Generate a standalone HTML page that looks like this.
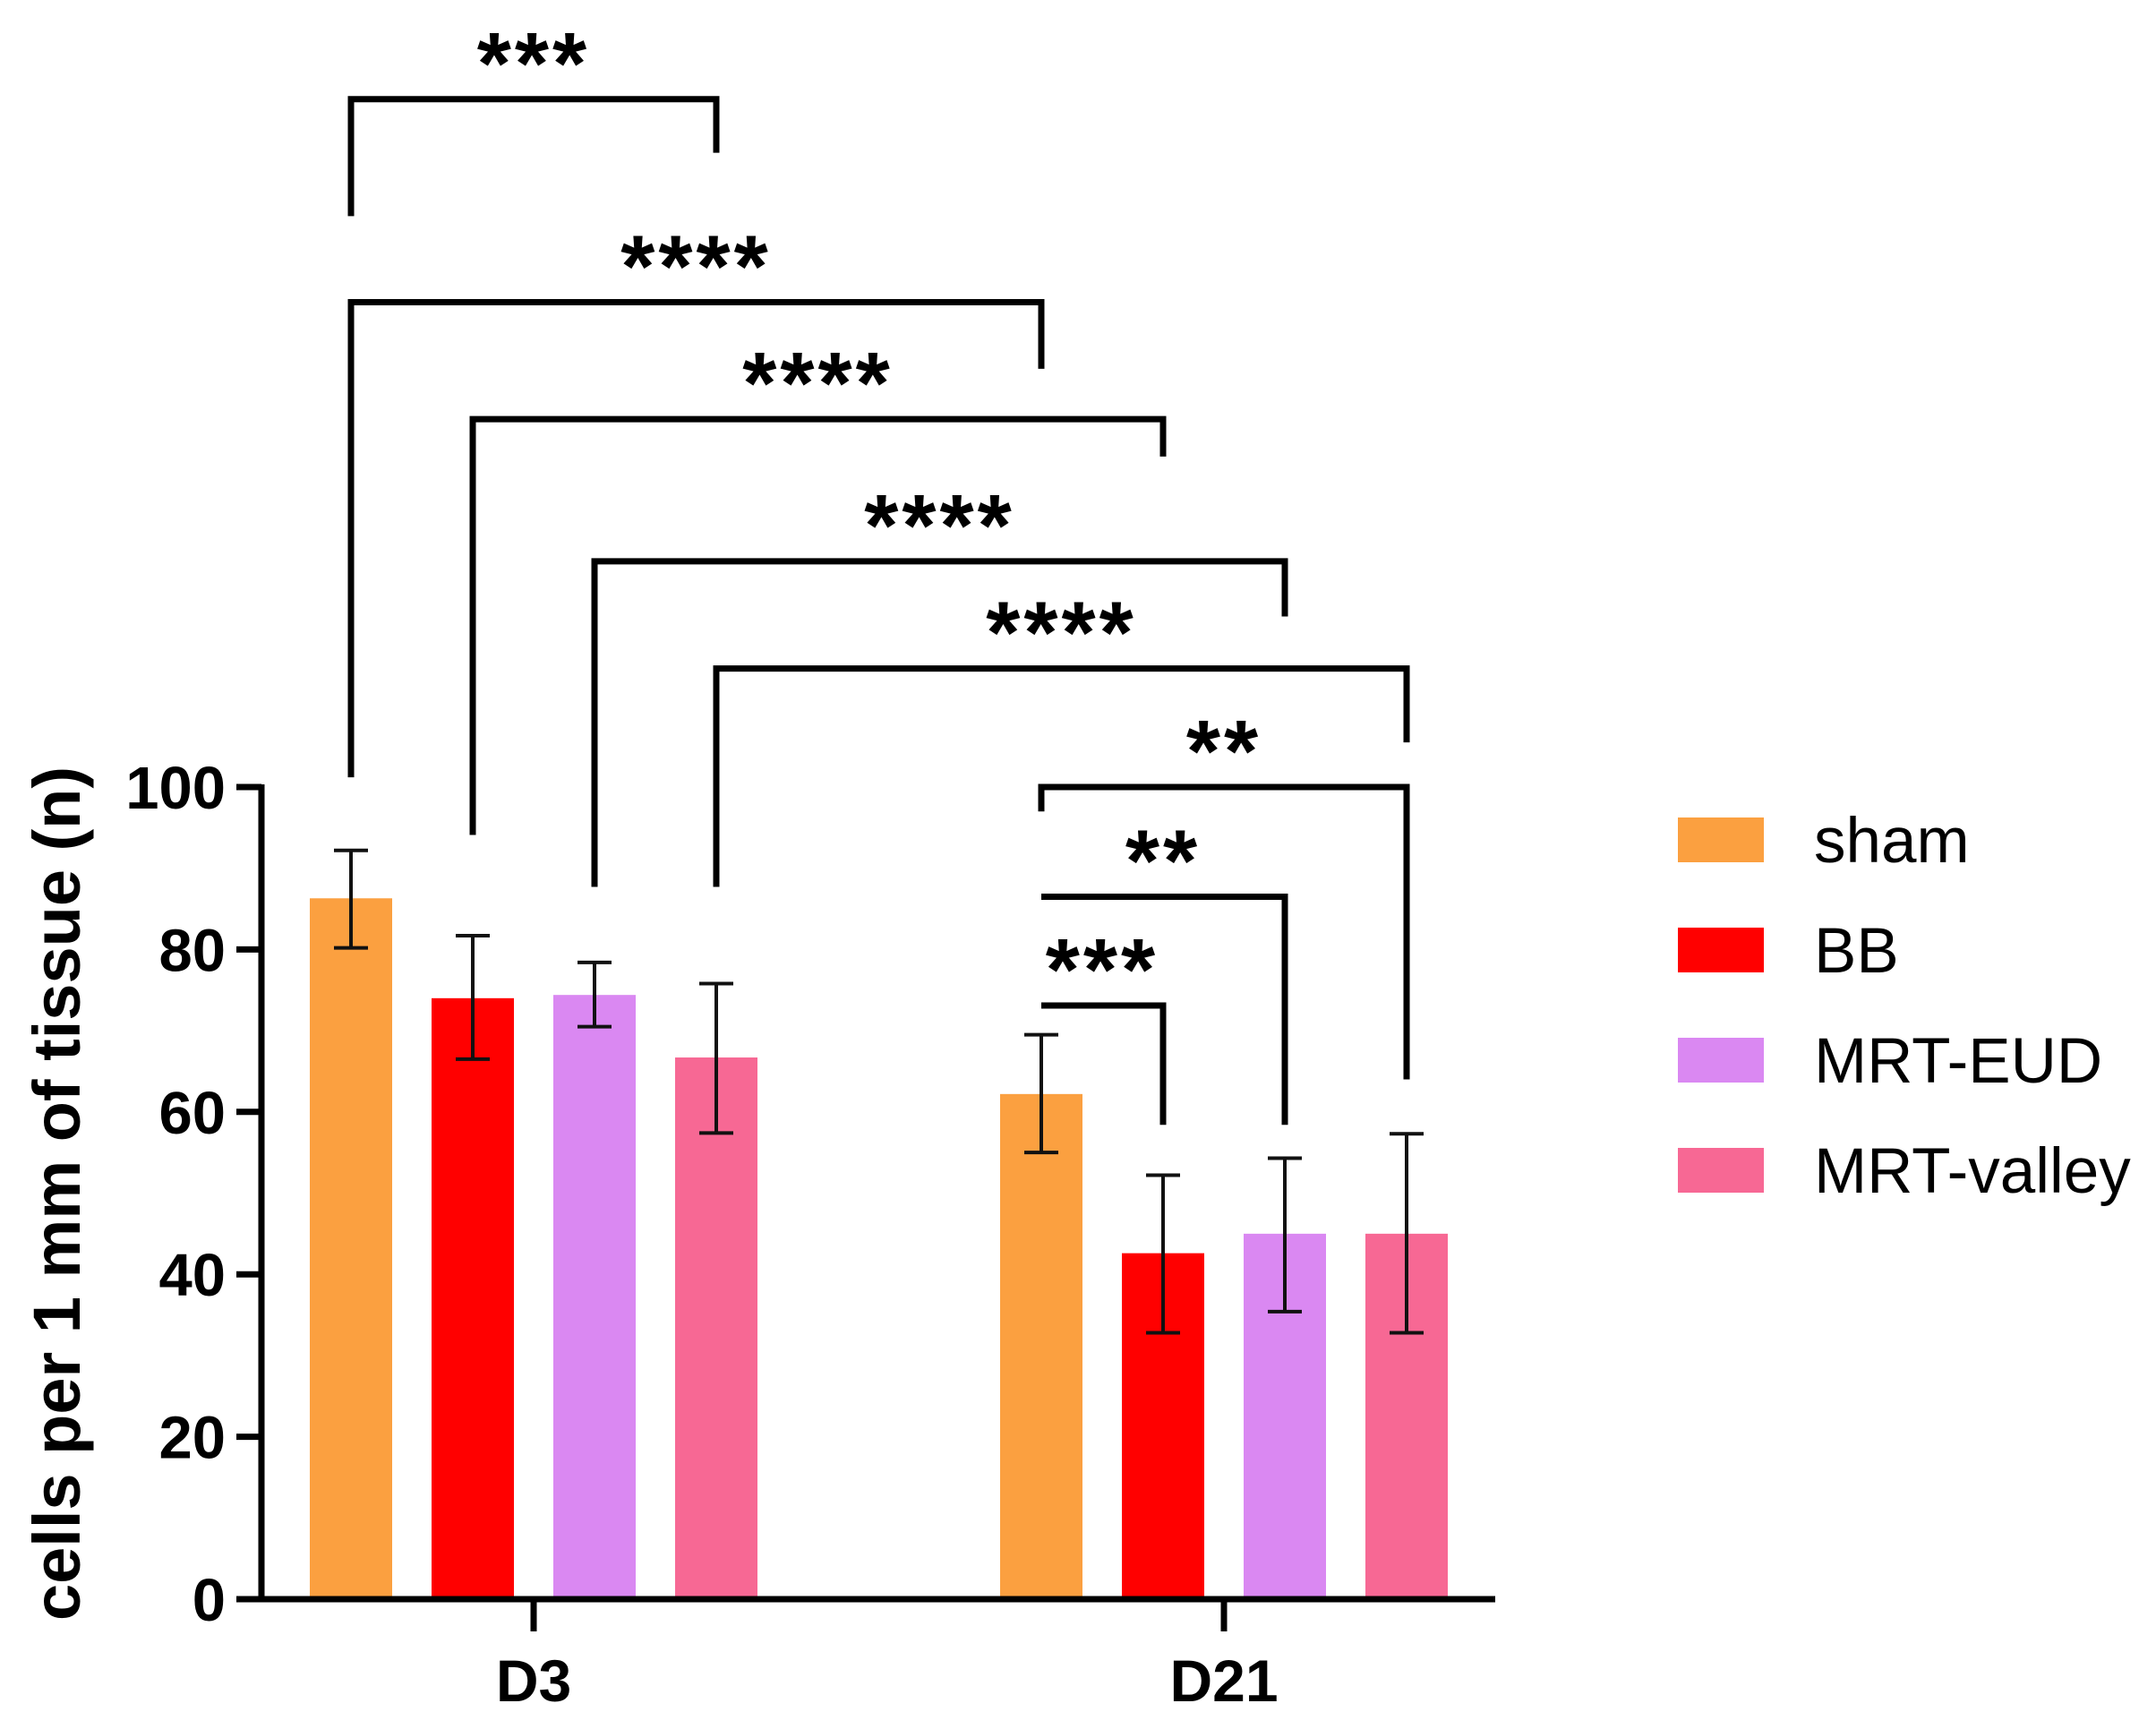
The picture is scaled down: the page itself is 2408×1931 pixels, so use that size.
<!DOCTYPE html>
<html><head><meta charset="utf-8"><style>
html,body{margin:0;padding:0;background:#fff;}
svg{display:block;font-family:"Liberation Sans",Arial,sans-serif;}
</style></head><body>
<svg id="chart" width="2408" height="1931" viewBox="0 0 2408 1931"></svg>
<script>
const groups = ["D3","D21"];
const series = ["sham","BB","MRT-EUD","MRT-valley"];
const colors = ["#FBA040","#FF0000","#DA88F2","#F76894"];
const means = [[86.3,74.0,74.4,66.7],[62.2,42.6,45.0,45.0]];
const errLow = [[80.2,66.5,70.5,57.4],[55.0,32.8,35.4,32.8]];
const errHigh = [[92.2,81.7,78.4,75.8],[69.5,52.2,54.3,57.3]];
const yTicks = [0,20,40,60,80,100];
const brkGroupA = [0,0,0,0,0,1,1,1];
const brkSerA = [0,0,1,2,3,0,0,0];
const brkGroupB = [0,1,1,1,1,1,1,1];
const brkSerB = [3,0,1,2,3,3,2,1];
const brkLevel = [184.7,159.7,145.3,127.8,114.6,100.0,86.5,73.1];
const brkLeftEnd = [170.3,101.2,94.1,87.7,87.7,97.0,86.5,73.1];
const brkRightEnd = [178.1,151.5,140.7,121.0,105.5,64.0,58.4,58.4];
const brkLabels = ["***","****","****","****","****","**","**","***"];

const NS="http://www.w3.org/2000/svg";
const svg=document.getElementById('chart');
const X0=292, Y0=1786, YT=879;
const y=v=>Y0-(v/100)*(Y0-YT);
const groupCenter=[596,1367];
const step=136, barW=92;
const bx=(g,s)=>groupCenter[g]+(s-1.5)*step;
function mk(tag,attrs,parent){const e=document.createElementNS(NS,tag);for(const k in attrs)e.setAttribute(k,attrs[k]);(parent||svg).appendChild(e);return e;}

for(let g=0;g<groups.length;g++){for(let s=0;s<series.length;s++){
  const cx=bx(g,s);
  const r=mk('rect',{x:cx-barW/2,y:y(means[g][s]),width:barW,height:Y0-y(means[g][s]),fill:colors[s]});
  
  
  const eg=mk('g',{stroke:'#111','stroke-width':4,fill:'none'});
  
  
  mk('line',{x1:cx,x2:cx,y1:y(errLow[g][s]),y2:y(errHigh[g][s])},eg);
  mk('line',{x1:cx-19,x2:cx+19,y1:y(errLow[g][s]),y2:y(errLow[g][s])},eg);
  mk('line',{x1:cx-19,x2:cx+19,y1:y(errHigh[g][s]),y2:y(errHigh[g][s])},eg);
}}

const ax=mk('g',{stroke:'#000','stroke-width':7,fill:'none'});


mk('line',{x1:X0,x2:X0,y1:YT-3,y2:Y0+3},ax);
mk('line',{x1:X0-3,x2:1670,y1:Y0,y2:Y0},ax);
for(const t of yTicks){
  mk('line',{x1:264,x2:X0,y1:y(t),y2:y(t)},ax);
  const tx=mk('text',{x:252,y:y(t)+24,'text-anchor':'end','font-size':67,'font-weight':'bold',fill:'#000'});
  tx.textContent=t;
  
  
}
for(let g=0;g<groups.length;g++){
  mk('line',{x1:groupCenter[g],x2:groupCenter[g],y1:Y0,y2:1822},ax);
  const tx=mk('text',{x:groupCenter[g],y:1900,'text-anchor':'middle','font-size':66,'font-weight':'bold',fill:'#000'});
  tx.textContent=groups[g];
  
  
}
const yt=mk('text',{x:0,y:0,'text-anchor':'middle','font-size':74,'font-weight':'bold',fill:'#000',transform:'translate(89,1333) rotate(-90)'});
yt.textContent='cells per 1 mm of tissue (n)';



for(let i=0;i<brkLabels.length;i++){
  const xl=bx(brkGroupA[i],brkSerA[i]), xr=bx(brkGroupB[i],brkSerB[i]);
  const yl=y(brkLevel[i]);
  const p=mk('path',{d:`M${xl},${y(brkLeftEnd[i])} V${yl} H${xr} V${y(brkRightEnd[i])}`,stroke:'#000','stroke-width':7,fill:'none','stroke-linejoin':'miter'});
  
  
  const t=mk('text',{x:(xl+xr)/2,y:yl-6,'text-anchor':'middle','font-size':98,'font-weight':'bold',fill:'#000','letter-spacing':4});
  t.textContent=brkLabels[i];
  
  
}

for(let s=0;s<series.length;s++){
  const cy=938+s*123;
  const g=mk('g',{});
  
  
  mk('rect',{x:1874,y:cy-25,width:96,height:50,fill:colors[s]},g);
  const t=mk('text',{x:2026,y:cy+25,'font-size':71,fill:'#000'},g);
  t.textContent=series[s];
}
</script>
</body></html>
